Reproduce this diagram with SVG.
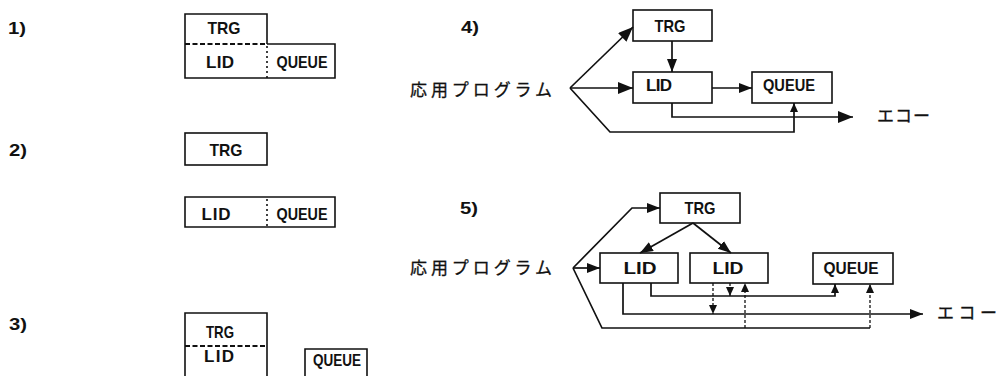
<svg xmlns="http://www.w3.org/2000/svg" width="1001" height="376" viewBox="0 0 1001 376">
<defs>
<style>
.bx{fill:none;stroke:#111;stroke-width:1.6}
.ln{fill:none;stroke:#111;stroke-width:1.7}
.dl{fill:none;stroke:#111;stroke-width:1.3;stroke-dasharray:3 2}
.dash{fill:none;stroke:#111;stroke-width:2.2;stroke-dasharray:5 2.5}
.dot{fill:none;stroke:#111;stroke-width:1.6;stroke-dasharray:2 3}
.t{font-family:"Liberation Sans",Arial,sans-serif;font-weight:bold;font-size:17px;fill:#111;text-anchor:middle}
.n{font-family:"Liberation Sans",Arial,sans-serif;font-weight:bold;font-size:16px;fill:#111}
.j{font-family:"Liberation Sans","Noto Sans CJK JP",sans-serif;font-size:17px;fill:#111;stroke:#111;stroke-width:0.3}
</style>
<marker id="ab" markerUnits="userSpaceOnUse" markerWidth="16" markerHeight="12" refX="15" refY="6" orient="auto"><path d="M0,0 L15,6 L0,12 z" fill="#111"/></marker>
<marker id="am" markerUnits="userSpaceOnUse" markerWidth="14" markerHeight="11" refX="13" refY="5" orient="auto"><path d="M0,0 L13,5 L0,10 z" fill="#111"/></marker>
<marker id="as" markerUnits="userSpaceOnUse" markerWidth="10" markerHeight="9" refX="9" refY="4" orient="auto"><path d="M0,0 L9,4 L0,8 z" fill="#111"/></marker>
</defs>
<rect width="1001" height="376" fill="#fff"/>

<g id="labels">
<text class="n" x="8" y="34" textLength="18" lengthAdjust="spacingAndGlyphs">1)</text>
<text class="n" x="9" y="156" textLength="18" lengthAdjust="spacingAndGlyphs">2)</text>
<text class="n" x="9" y="330" textLength="18" lengthAdjust="spacingAndGlyphs">3)</text>
<text class="n" x="461" y="33" textLength="18" lengthAdjust="spacingAndGlyphs">4)</text>
<text class="n" x="460" y="214" textLength="18" lengthAdjust="spacingAndGlyphs">5)</text>
</g>

<!-- Panel 1 -->
<g id="p1-trg"><path class="bx" d="M185,44 V14 H267 V44"/><text class="t" x="224" y="34" textLength="33" lengthAdjust="spacingAndGlyphs">TRG</text></g>
<g id="p1-lid"><path class="dash" d="M185,44 H267"/><path class="bx" d="M185,44 V78 H267"/><text class="t" x="220" y="68" textLength="28" lengthAdjust="spacing">LID</text></g>
<g id="p1-queue"><path class="bx" d="M267,44 H335 V78 H267"/><path class="dot" d="M267,46 V78"/><text class="t" x="302" y="68" textLength="51" lengthAdjust="spacingAndGlyphs">QUEUE</text></g>

<!-- Panel 2 -->
<g id="p2-trg"><rect class="bx" x="185" y="133" width="82" height="32"/><text class="t" x="226" y="156" textLength="33" lengthAdjust="spacingAndGlyphs">TRG</text></g>
<g id="p2-lid"><path class="bx" d="M267,197 H185 V227 H267"/><text class="t" x="216" y="220" textLength="29" lengthAdjust="spacing">LID</text></g>
<g id="p2-queue"><path class="bx" d="M267,197 H335 V227 H267"/><path class="dot" d="M267,199 V227"/><text class="t" x="302" y="220" textLength="51" lengthAdjust="spacingAndGlyphs">QUEUE</text></g>

<!-- Panel 3 -->
<g id="p3-trg"><path class="bx" d="M185,346 V313 H267 V346"/><text class="t" x="220" y="338" textLength="28" lengthAdjust="spacingAndGlyphs">TRG</text></g>
<g id="p3-lid"><path class="dash" d="M185,346 H267"/><path class="bx" d="M185,346 V376 M267,346 V376"/><text class="t" x="219" y="362" textLength="30" lengthAdjust="spacing">LID</text></g>
<g id="p3-queue"><path class="bx" d="M305,376 V349 H367 V376"/><text class="t" x="337" y="366" textLength="48" lengthAdjust="spacingAndGlyphs">QUEUE</text></g>

<!-- Panel 4 -->
<g id="p4-app"><text class="j" x="410" y="96" textLength="142" lengthAdjust="spacing">応用プログラム</text></g>
<g id="p4-trg"><rect class="bx" x="633" y="10" width="79" height="31"/><text class="t" x="670" y="32" textLength="31" lengthAdjust="spacingAndGlyphs">TRG</text></g>
<g id="p4-lid"><rect class="bx" x="633" y="72" width="79" height="31"/><text class="t" x="659" y="91" textLength="26" lengthAdjust="spacing">LID</text></g>
<g id="p4-queue"><rect class="bx" x="752" y="72" width="80" height="31"/><text class="t" x="789" y="91" textLength="52" lengthAdjust="spacingAndGlyphs">QUEUE</text></g>
<g id="p4-echo"><text class="j" x="877" y="122" textLength="53" lengthAdjust="spacing">エコー</text></g>

<!-- Panel 5 -->
<g id="p5-app"><text class="j" x="410" y="274" textLength="142" lengthAdjust="spacing">応用プログラム</text></g>
<g id="p5-trg"><rect class="bx" x="660" y="193" width="80" height="30"/><text class="t" x="700" y="214" textLength="31" lengthAdjust="spacingAndGlyphs">TRG</text></g>
<g id="p5-lid1"><rect class="bx" x="600" y="253" width="78" height="30"/><text class="t" x="640" y="274" textLength="33" lengthAdjust="spacingAndGlyphs">LID</text></g>
<g id="p5-lid2"><rect class="bx" x="690" y="253" width="78" height="30"/><text class="t" x="728" y="274" textLength="31" lengthAdjust="spacingAndGlyphs">LID</text></g>
<g id="p5-queue"><rect class="bx" x="813" y="253" width="80" height="31"/><text class="t" x="851" y="274" textLength="55" lengthAdjust="spacingAndGlyphs">QUEUE</text></g>
<g id="p5-echo"><text class="j" x="937" y="319" textLength="60" lengthAdjust="spacing">エコー</text></g>

<g id="connectors">
<!-- panel 4 -->
<path class="ln" d="M570,88 L633,27" marker-end="url(#ab)"/>
<path class="ln" d="M570,88 H633" marker-end="url(#ab)"/>
<path class="ln" d="M672,41 V72" marker-end="url(#am)"/>
<path class="ln" d="M712,88 H752" marker-end="url(#am)"/>
<path class="ln" d="M672,103 V117 H853" marker-end="url(#ab)"/>
<path class="ln" d="M570,88 L610,132 H794 V103" marker-end="url(#as)"/>
<!-- panel 5 -->
<path class="ln" d="M573,268 L632,208 H660" marker-end="url(#am)"/>
<path class="ln" d="M573,268 H600" marker-end="url(#am)"/>
<path class="ln" d="M693,223 L640,253" marker-end="url(#am)"/>
<path class="ln" d="M693,223 L731,253" marker-end="url(#am)"/>
<path class="ln" d="M573,268 L602,328 H870"/>
<path class="dl" d="M745,328 V283" marker-end="url(#as)"/>
<path class="dl" d="M870,328 V284" marker-end="url(#as)"/>
<path class="ln" d="M651,283 V296 H835 V284" marker-end="url(#as)"/>
<path class="dl" d="M730,283 V296" marker-end="url(#as)"/>
<path class="dl" d="M713,283 V314" marker-end="url(#as)"/>
<path class="ln" d="M623,283 V314 H923" marker-end="url(#am)"/>
</g>
</svg>
